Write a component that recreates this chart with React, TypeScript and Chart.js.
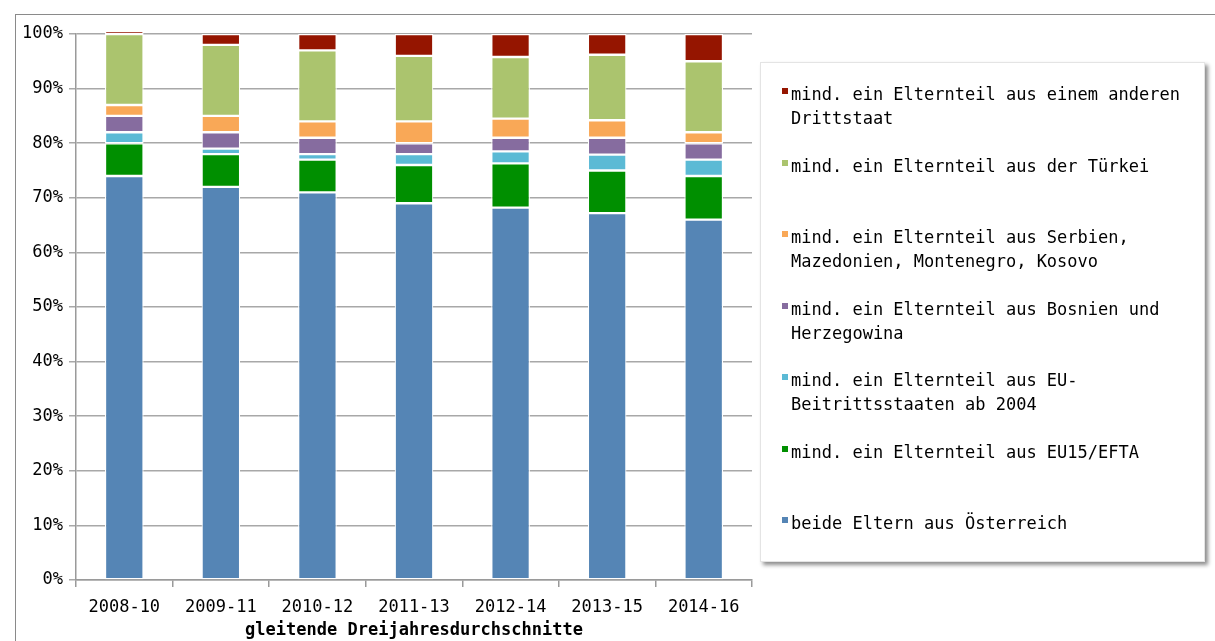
import React, { useEffect, useRef } from "react";
import { Chart, registerables } from "chart.js";

Chart.register(...registerables);

const categories = ["2008-10", "2009-11", "2010-12", "2011-13", "2012-14", "2013-15", "2014-16"];
const yTickLabels = ["0%", "10%", "20%", "30%", "40%", "50%", "60%", "70%", "80%", "90%", "100%"];

const austria = [74, 72, 71, 69, 68.2, 67.2, 66];
const eu15 = [6, 6, 6, 7, 8.1, 7.8, 8];
const euAccession = [2, 1, 1, 2, 2.2, 2.9, 3];
const bosnia = [3, 3, 3, 2, 2.5, 3.1, 3];
const serbia = [2, 3, 3, 4, 3.5, 3.2, 2];
const turkey = [13, 13, 13, 12, 11.3, 12, 13];
const otherThird = [0.6, 2, 3, 4, 4.2, 3.8, 5];

const seriesLabels = [
  "beide Eltern aus Österreich",
  "mind. ein Elternteil aus EU15/EFTA",
  "mind. ein Elternteil aus EU-Beitrittsstaaten ab 2004",
  "mind. ein Elternteil aus Bosnien und Herzegowina",
  "mind. ein Elternteil aus Serbien, Mazedonien, Montenegro, Kosovo",
  "mind. ein Elternteil aus der Türkei",
  "mind. ein Elternteil aus einem anderen Drittstaat",
];
const legendLines = [
  ["beide Eltern aus Österreich"],
  ["mind. ein Elternteil aus EU15/EFTA"],
  ["mind. ein Elternteil aus EU-", "Beitrittsstaaten ab 2004"],
  ["mind. ein Elternteil aus Bosnien und", "Herzegowina"],
  ["mind. ein Elternteil aus Serbien,", "Mazedonien, Montenegro, Kosovo"],
  ["mind. ein Elternteil aus der Türkei"],
  ["mind. ein Elternteil aus einem anderen", "Drittstaat"],
];
const colors = ["#5585b5", "#008f00", "#5bbad5", "#866c9f", "#f9a857", "#abc46e", "#951500"];
const seriesValues = [austria, eu15, euAccession, bosnia, serbia, turkey, otherThird];

const FONT = "'DejaVu Sans Mono', monospace";

export default function App() {
  const canvasRef = useRef<HTMLCanvasElement | null>(null);

  useEffect(() => {
    const ctx = canvasRef.current!.getContext("2d")!;
    const chart = new Chart(ctx, {
      type: "bar",
      data: {
        labels: categories,
        datasets: seriesValues.map((vals, i) => ({
          label: seriesLabels[i],
          data: vals,
          backgroundColor: colors[i],
          borderColor: "#ffffff",
          borderWidth: 1.2,
          borderSkipped: false,
          barPercentage: 0.4,
          categoryPercentage: 1,
          clip: false as any,
        })),
      },
      options: {
        animation: false,
        responsive: false,
        maintainAspectRatio: false,
        layout: { padding: { left: 0, right: 463, top: 34, bottom: 0 } },
        plugins: {
          legend: { display: false },
          tooltip: { enabled: false },
        },
        scales: {
          x: {
            stacked: true,
            grid: {
              display: true,
              drawOnChartArea: false,
              offset: true,
              tickLength: 7,
              color: "#9a9a9a",
              lineWidth: 1.5,
            },
            border: { color: "#9a9a9a", width: 1.5 },
            ticks: { color: "#000", font: { family: FONT, size: 17 }, padding: 10 },
            title: {
              display: true,
              text: "gleitende Dreijahresdurchschnitte",
              color: "#000",
              font: { family: FONT, size: 17, weight: "bold" },
              padding: { top: 0, bottom: 0 },
            },
            afterFit: (scale: any) => {
              scale.height = 61;
            },
          },
          y: {
            stacked: true,
            min: 0,
            max: 100,
            grid: { color: "#a8a8a8", lineWidth: 1.5, tickLength: 7 },
            border: { color: "#9a9a9a", width: 1.5 },
            ticks: {
              stepSize: 10,
              color: "#000",
              font: { family: FONT, size: 17 },
              padding: 6,
              callback: (_v: any, idx: number) => yTickLabels[idx],
            },
            afterFit: (scale: any) => {
              scale.width = 76;
            },
          },
        },
      },
    });
    return () => chart.destroy();
  }, []);

  const legendItems = legendLines.map((lines, i) => ({ lines, color: colors[i] })).reverse();

  return (
    <div style={{ position: "fixed", left: 0, top: 0, width: 1215, height: 641, background: "#fff", overflow: "hidden" }}>
      <div
        style={{
          position: "absolute",
          left: 15,
          top: 14,
          width: 1215,
          height: 650,
          border: "1px solid #8a8a8a",
          boxSizing: "border-box",
        }}
      />
      <canvas ref={canvasRef} width={1215} height={641} style={{ position: "absolute", left: 0, top: 0 }} />
      <div
        style={{
          position: "absolute",
          left: 760,
          top: 62,
          width: 445,
          height: 500,
          background: "#fff",
          border: "1px solid #e4e4e4",
          boxShadow: "3px 3px 4px rgba(0,0,0,0.45)",
          boxSizing: "border-box",
          fontFamily: FONT,
          fontSize: 17,
          color: "#000",
        }}
      >
        {legendItems.map((it, i) => (
          <div
            key={i}
            style={{
              position: "absolute",
              left: 30,
              top: 19 + i * 71.5,
              lineHeight: "24px",
            }}
          >
            <span
              style={{
                position: "absolute",
                left: -9,
                top: 6,
                width: 6,
                height: 6,
                background: it.color,
              }}
            />
            {it.lines.map((l, j) => (
              <div key={j} style={{ whiteSpace: "nowrap" }}>{l}</div>
            ))}
          </div>
        ))}
      </div>
    </div>
  );
}
